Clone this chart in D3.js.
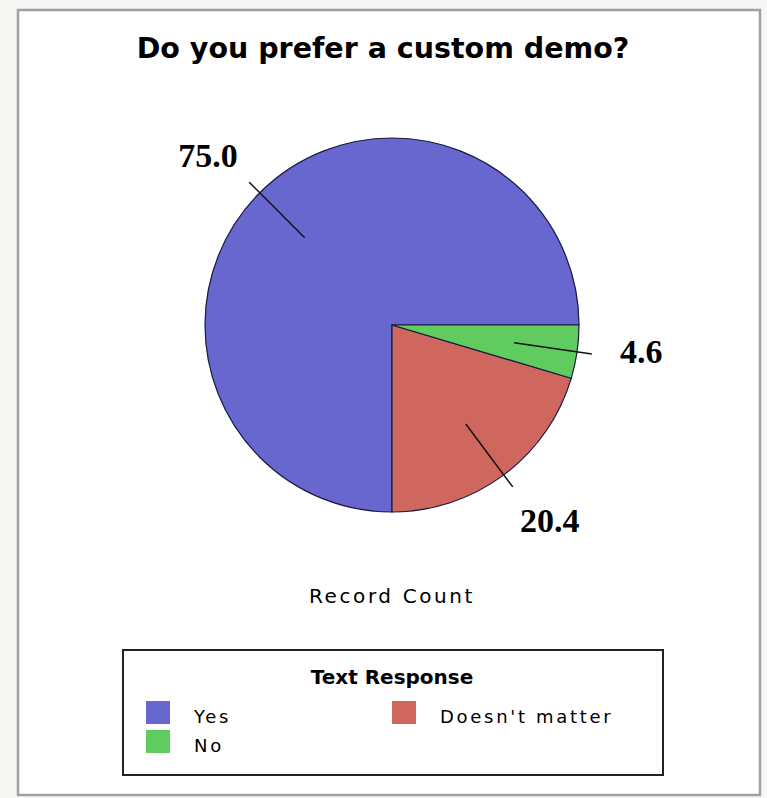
<!DOCTYPE html>
<html lang="en">
<head>
    <meta charset="UTF-8">
    <title>Do you prefer a custom demo?</title>
    <script src="https://d3js.org/d3.v7.min.js"></script>
    <style>
        body { margin: 0; background: #f7f7f5; }
        .title { font-family: "DejaVu Sans", sans-serif; font-weight: bold; font-size: 28.5px; }
        .value-label { font-family: "Liberation Serif", serif; font-weight: bold; font-size: 34px; }
        .axis-caption { font-family: "DejaVu Sans", sans-serif; font-size: 20px; letter-spacing: 2.6px; }
        .legend-title { font-family: "DejaVu Sans", sans-serif; font-weight: bold; font-size: 20px; }
        .legend-text { font-family: "DejaVu Sans", sans-serif; font-size: 18px; letter-spacing: 2.7px; }
    </style>
</head>
<body>
    <svg id="chart"></svg>
    <script>
        // data
        const categories = ["Yes", "Doesn't matter", "No"];
        const values = [75.0, 20.4, 4.6];
        const colors = ["#6767cf", "#d0675f", "#60cc60"];

        const width = 767, height = 798;
        const cx = 392, cy = 325, radius = 187;

        const svg = d3.select("#chart")
            .attr("width", width)
            .attr("height", height);

        // frame
        svg.append("rect")
            .attr("x", 18).attr("y", 10)
            .attr("width", 742).attr("height", 785)
            .attr("fill", "#fff")
            .attr("stroke", "#a0a0a0")
            .attr("stroke-width", 2.5);

        svg.append("text")
            .attr("class", "title")
            .attr("x", 383)
            .attr("y", 58)
            .attr("text-anchor", "middle")
            .text("Do you prefer a custom demo?");

        const data = categories.map((c, i) => ({ name: c, value: values[i], color: colors[i] }));

        // Yes starts at 3 o'clock and runs counter-clockwise
        const pie = d3.pie()
            .sort(null)
            .value(d => d.value)
            .startAngle(Math.PI / 2)
            .endAngle(Math.PI / 2 - 2 * Math.PI);

        const arcs = pie(data);
        const arc = d3.arc().innerRadius(0).outerRadius(radius);

        const g = svg.append("g").attr("transform", `translate(${cx}, ${cy})`);

        g.selectAll("path")
            .data(arcs)
            .enter().append("path")
            .attr("d", arc)
            .attr("fill", d => d.data.color)
            .attr("stroke", "#1a1a40")
            .attr("stroke-width", 1.2);

        // leader lines and value labels
        const pt = (a, r) => [Math.sin(a) * r, -Math.cos(a) * r];

        arcs.forEach(d => {
            const mid = (d.startAngle + d.endAngle) / 2;
            const p1 = pt(mid, radius * 0.66);
            const p2 = pt(mid, radius * 1.08);
            const pl = pt(mid - 0.04, radius * 1.34);

            g.append("line")
                .attr("x1", p1[0]).attr("y1", p1[1])
                .attr("x2", p2[0]).attr("y2", p2[1])
                .attr("stroke", "#111")
                .attr("stroke-width", 1.5);

            g.append("text")
                .attr("class", "value-label")
                .attr("x", pl[0])
                .attr("y", pl[1])
                .attr("dy", "0.35em")
                .attr("text-anchor", "middle")
                .text(d3.format(".1f")(d.data.value));
        });

        svg.append("text")
            .attr("class", "axis-caption")
            .attr("x", 392)
            .attr("y", 603)
            .attr("text-anchor", "middle")
            .text("Record Count");

        // legend
        const legend = svg.append("g");
        legend.append("rect")
            .attr("x", 123).attr("y", 650)
            .attr("width", 540).attr("height", 125)
            .attr("fill", "#fff")
            .attr("stroke", "#222")
            .attr("stroke-width", 2);

        legend.append("text")
            .attr("class", "legend-title")
            .attr("x", 392)
            .attr("y", 684)
            .attr("text-anchor", "middle")
            .text("Text Response");

        // legend order: Yes, Doesn't matter (right column), No
        const legendPos = {
            "Yes": [146, 701],
            "Doesn't matter": [392, 701],
            "No": [146, 730]
        };

        data.forEach(d => {
            const [x, y] = legendPos[d.name];
            legend.append("rect")
                .attr("x", x).attr("y", y)
                .attr("width", 24).attr("height", 23)
                .attr("fill", d.color);
            legend.append("text")
                .attr("class", "legend-text")
                .attr("x", x + 48)
                .attr("y", y + 22)
                .text(d.name);
        });
    </script>
</body>
</html>
